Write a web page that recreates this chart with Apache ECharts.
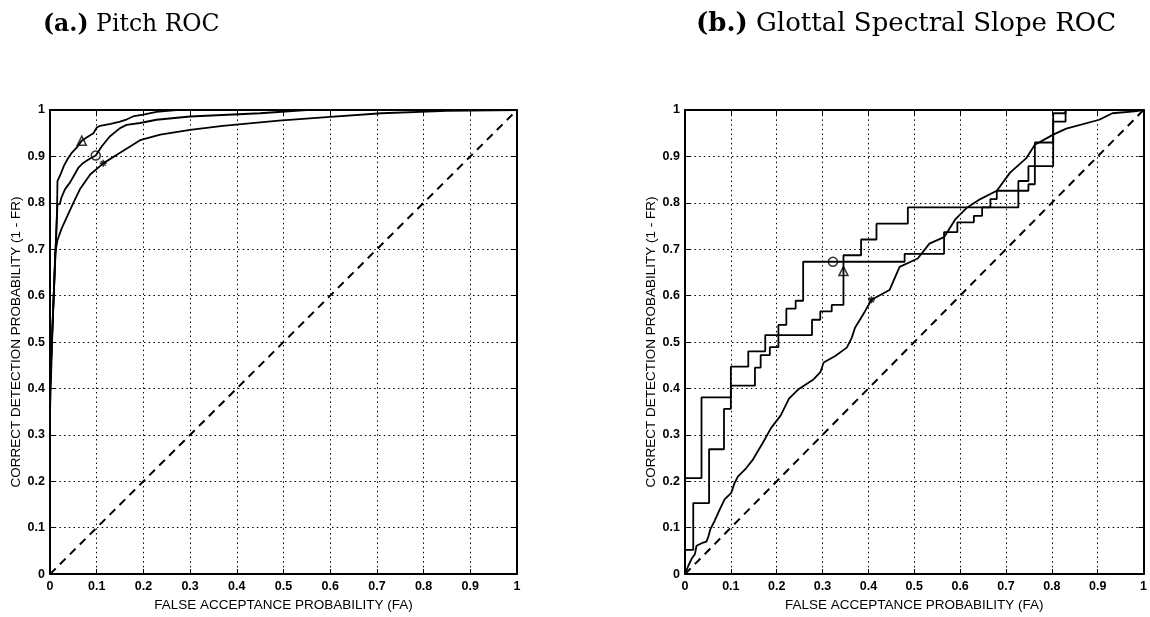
<!DOCTYPE html>
<html>
<head>
<meta charset="utf-8">
<script src="https://cdn.jsdelivr.net/npm/echarts@6/dist/echarts.min.js"></script>
<style>
html, body { margin: 0; padding: 0; background: #fff; }
#main { width: 1150px; height: 617px; }
</style>
</head>
<body>
<div id="main"></div>
<script>
var tags = ['(a.)', '(b.)'];
var titles = ['Pitch ROC', 'Glottal Spectral Slope ROC'];
var xName = 'FALSE ACCEPTANCE PROBABILITY (FA)';
var yName = 'CORRECT DETECTION PROBABILITY (1 - FR)';
var chance = [[0, 0], [1, 1]];

// (a.) pitch ROC curves [FA, 1-FR]
var pitchTri = [[0, 0], [0, 0.4], [0.004, 0.5], [0.008, 0.6], [0.012, 0.7], [0.015, 0.78], [0.016, 0.847],
  [0.022, 0.86], [0.03, 0.88], [0.038, 0.895], [0.046, 0.907], [0.058, 0.92], [0.068, 0.934], [0.08, 0.942],
  [0.093, 0.95], [0.1, 0.962], [0.107, 0.966], [0.13, 0.97], [0.15, 0.975], [0.165, 0.98], [0.18, 0.987],
  [0.2, 0.99], [0.228, 0.996], [0.27, 1], [1, 1]];
var pitchCirc = [[0, 0], [0, 0.4], [0.004, 0.5], [0.008, 0.6], [0.012, 0.7], [0.016, 0.797], [0.021, 0.797],
  [0.024, 0.81], [0.032, 0.829], [0.043, 0.844], [0.052, 0.86], [0.061, 0.876], [0.071, 0.886], [0.085, 0.895],
  [0.098, 0.902], [0.111, 0.922], [0.128, 0.943], [0.15, 0.961], [0.164, 0.968], [0.193, 0.972], [0.228, 0.979],
  [0.3, 0.986], [0.45, 0.993], [0.55, 1], [1, 1]];
var pitchStar = [[0, 0], [0, 0.35], [0.003, 0.45], [0.006, 0.55], [0.009, 0.63], [0.011, 0.69], [0.016, 0.72],
  [0.025, 0.745], [0.036, 0.769], [0.05, 0.8], [0.064, 0.829], [0.086, 0.861], [0.114, 0.885], [0.15, 0.908],
  [0.193, 0.935], [0.236, 0.947], [0.3, 0.957], [0.37, 0.966], [0.49, 0.977], [0.6, 0.985], [0.71, 0.993],
  [0.85, 0.998], [1, 1]];
var pitchMarks = [[0.068, 0.934], [0.098, 0.902], [0.114, 0.885]];

// (b.) glottal spectral slope ROC, stairs: at FA the curve jumps up to the value
var slopeTri = [[0, 0], [0, 0.207], [0.036, 0.381], [0.1, 0.447], [0.138, 0.48], [0.175, 0.515],
  [0.277, 0.548], [0.295, 0.566], [0.32, 0.58], [0.3456, 0.687], [0.384, 0.721], [0.4176, 0.755],
  [0.486, 0.79], [0.727, 0.826], [0.749, 0.84], [0.763, 0.93], [0.803, 0.975], [0.83, 1], [1, 1]];
var slopeCirc = [[0, 0], [0, 0.052], [0.018, 0.153], [0.0525, 0.269], [0.085, 0.356], [0.1, 0.406],
  [0.1526, 0.445], [0.165, 0.472], [0.185, 0.489], [0.2037, 0.537], [0.221, 0.572], [0.2413, 0.589],
  [0.2577, 0.673], [0.479, 0.69], [0.565, 0.737], [0.594, 0.758], [0.63, 0.772], [0.648, 0.79],
  [0.666, 0.808], [0.68, 0.826], [0.727, 0.847], [0.749, 0.879], [0.803, 0.993], [0.83, 1], [1, 1]];
var slopeStar = [[0, 0], [0, 0.004], [0.0072, 0.018], [0.0144, 0.033], [0.0216, 0.043], [0.0252, 0.061],
  [0.0396, 0.068], [0.0468, 0.07], [0.0504, 0.079], [0.0554, 0.097], [0.0648, 0.115], [0.0756, 0.139],
  [0.0864, 0.161], [0.1008, 0.175], [0.108, 0.196], [0.1152, 0.21], [0.1332, 0.228], [0.1476, 0.246],
  [0.1584, 0.264], [0.1692, 0.282], [0.1872, 0.314], [0.2088, 0.342], [0.2268, 0.378], [0.2484, 0.399],
  [0.2808, 0.42], [0.2952, 0.435], [0.3024, 0.456], [0.3276, 0.47], [0.3528, 0.488], [0.3636, 0.509],
  [0.3708, 0.531], [0.3924, 0.566], [0.4067, 0.591], [0.446, 0.612], [0.468, 0.662], [0.5076, 0.68],
  [0.533, 0.712], [0.565, 0.726], [0.59, 0.765], [0.6156, 0.79], [0.644, 0.808], [0.68, 0.826],
  [0.709, 0.865], [0.745, 0.897], [0.763, 0.925], [0.803, 0.947], [0.8315, 0.96], [0.9035, 0.979],
  [0.932, 0.993], [0.98, 0.997], [1, 1]];
var slopeMarks = [[0.3456, 0.653], [0.3226, 0.673], [0.4067, 0.591]];

var markShapes = ['triangle', 'circle', 'path://M5 0L5 10M0 5L10 5M1.5 1.5L8.5 8.5M8.5 1.5L1.5 8.5'];

var chart = echarts.init(document.getElementById('main'));
var grids = [
  { left: 50, top: 110, width: 467, height: 468 },
  { left: 685, top: 110, width: 463, height: 468 }
];
var black = '#000';
var tickFont = { color: black, fontWeight: 'bold', fontSize: 12.5, fontFamily: 'Liberation Sans' };
var nameFont = { color: black, fontSize: 13.5, fontFamily: 'Liberation Sans' };

var xAxes = [], yAxes = [], series = [], title = [];
var curves = [[pitchTri, pitchCirc, pitchStar], [slopeTri, slopeCirc, slopeStar]];
var marks = [pitchMarks, slopeMarks];

for (var g = 0; g < 2; g++) {
  // main axes with labels and dotted grid
  xAxes.push({
    gridIndex: g, type: 'value', min: 0, max: 1, interval: 0.1, position: 'bottom',
    name: xName, nameLocation: 'middle', nameGap: 20, nameTextStyle: nameFont,
    axisLine: { onZero: false, lineStyle: { color: black, width: 2 } },
    axisTick: { inside: true, length: 5, lineStyle: { color: black } },
    axisLabel: Object.assign({ margin: 6 }, tickFont),
    splitLine: { show: true, lineStyle: { color: black, width: 1, type: [1.5, 3.2] } }
  });
  xAxes.push({
    gridIndex: g, type: 'value', min: 0, max: 1, interval: 0.1, position: 'top',
    axisLine: { onZero: false, lineStyle: { color: black, width: 2 } },
    axisTick: { inside: true, length: 5, lineStyle: { color: black } },
    axisLabel: { show: false }, splitLine: { show: false }
  });
  yAxes.push({
    gridIndex: g, type: 'value', min: 0, max: 1, interval: 0.1, position: 'left',
    name: yName, nameLocation: 'middle', nameGap: 26, nameRotate: 90, nameTextStyle: nameFont,
    axisLine: { onZero: false, lineStyle: { color: black, width: 2 } },
    axisTick: { inside: true, length: 5, lineStyle: { color: black } },
    axisLabel: Object.assign({ margin: 5 }, tickFont),
    splitLine: { show: true, lineStyle: { color: black, width: 1, type: [1.5, 3.2] } }
  });
  yAxes.push({
    gridIndex: g, type: 'value', min: 0, max: 1, interval: 0.1, position: 'right',
    axisLine: { onZero: false, lineStyle: { color: black, width: 2 } },
    axisTick: { inside: true, length: 5, lineStyle: { color: black } },
    axisLabel: { show: false }, splitLine: { show: false }
  });

  var xi = g * 2, yi = g * 2;
  series.push({
    type: 'line', xAxisIndex: xi, yAxisIndex: yi, data: chance, symbol: 'none', silent: true,
    lineStyle: { color: black, width: 2, type: [8, 6] }
  });
  for (var c = 0; c < 3; c++) {
    var s = {
      type: 'line', xAxisIndex: xi, yAxisIndex: yi, data: curves[g][c], symbol: 'none', silent: true,
      lineStyle: { color: black, width: 1.8 }
    };
    if (g === 1 && c < 2) s.step = 'end';
    series.push(s);
    series.push({
      type: 'scatter', xAxisIndex: xi, yAxisIndex: yi, data: [marks[g][c]],
      symbol: markShapes[c], symbolSize: c === 2 ? 7 : 9, silent: true,
      itemStyle: { color: c === 2 ? black : '#fff', borderColor: black, borderWidth: 1.5 }
    });
  }

  var fs = g === 0 ? 23.5 : 26;
  title.push({
    text: '{b|' + tags[g] + '} ' + titles[g],
    left: g === 0 ? 38 : 691, top: g === 0 ? 8 : 6,
    textStyle: {
      color: black, fontSize: fs, fontWeight: 'normal', fontFamily: 'DejaVu Serif',
      rich: { b: { fontSize: fs, fontWeight: 'bold', fontFamily: 'DejaVu Serif', color: black } }
    }
  });
}

chart.setOption({
  backgroundColor: '#fff',
  animation: false,
  title: title,
  grid: grids,
  xAxis: xAxes,
  yAxis: yAxes,
  series: series
});
</script>
</body>
</html>
